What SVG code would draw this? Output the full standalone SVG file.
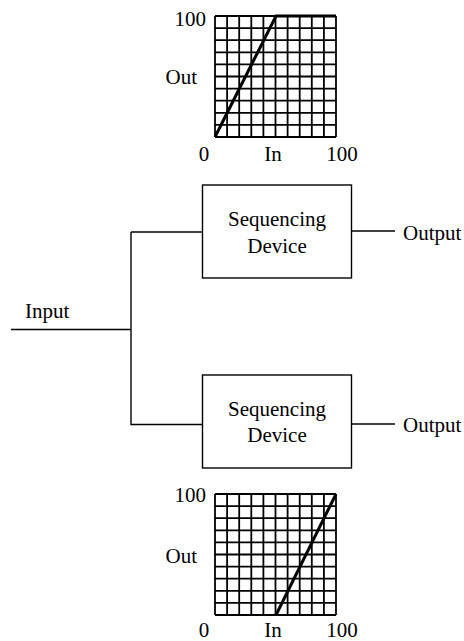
<svg xmlns="http://www.w3.org/2000/svg" xmlns:xlink="http://www.w3.org/1999/xlink" width="464" height="641" viewBox="0 0 464 641">
<style>
text{font-family:"Liberation Serif","Times New Roman",serif;font-size:21px;fill:#000}
.grid line{stroke:#000;stroke-width:1.8}
.curve{fill:none;stroke:#000;stroke-width:3;stroke-linejoin:miter}
.box{fill:#fff;stroke:#000;stroke-width:1.4}
.conn{fill:none;stroke:#000;stroke-width:1.4}
.mid{text-anchor:middle}
.end{text-anchor:end}
</style>
<defs>
<g id="gridlines" class="grid">
<line x1="0" y1="0" x2="0" y2="121"/>
<line x1="12.1" y1="0" x2="12.1" y2="121"/>
<line x1="24.2" y1="0" x2="24.2" y2="121"/>
<line x1="36.3" y1="0" x2="36.3" y2="121"/>
<line x1="48.4" y1="0" x2="48.4" y2="121"/>
<line x1="60.5" y1="0" x2="60.5" y2="121"/>
<line x1="72.6" y1="0" x2="72.6" y2="121"/>
<line x1="84.7" y1="0" x2="84.7" y2="121"/>
<line x1="96.8" y1="0" x2="96.8" y2="121"/>
<line x1="108.9" y1="0" x2="108.9" y2="121"/>
<line x1="121" y1="0" x2="121" y2="121"/>
<line x1="0" y1="0" x2="121" y2="0"/>
<line x1="0" y1="12.1" x2="121" y2="12.1"/>
<line x1="0" y1="24.2" x2="121" y2="24.2"/>
<line x1="0" y1="36.3" x2="121" y2="36.3"/>
<line x1="0" y1="48.4" x2="121" y2="48.4"/>
<line x1="0" y1="60.5" x2="121" y2="60.5"/>
<line x1="0" y1="72.6" x2="121" y2="72.6"/>
<line x1="0" y1="84.7" x2="121" y2="84.7"/>
<line x1="0" y1="96.8" x2="121" y2="96.8"/>
<line x1="0" y1="108.9" x2="121" y2="108.9"/>
<line x1="0" y1="121" x2="121" y2="121"/>
</g>
</defs>

<g id="connectors">
<path class="conn" d="M11,329.5 H131"/>
<path class="conn" d="M131,232 V424.5 H202.5"/>
<path class="conn" d="M131,232 H202.5"/>
<path class="conn" d="M351.5,231 H395"/>
<path class="conn" d="M351.5,424 H395"/>
</g>

<g id="graph-top">
<use xlink:href="#gridlines" transform="translate(215,16)"/>
<polyline class="curve" points="215,137 276,16 336,16"/>
<text class="end" x="206" y="26">100</text>
<text class="end" x="197" y="84">Out</text>
<text class="mid" x="204" y="161">0</text>
<text class="mid" x="273" y="161">In</text>
<text class="mid" x="342" y="161">100</text>
</g>

<g id="device-top">
<rect class="box" x="202.5" y="185" width="149" height="93"/>
<text class="mid" x="277" y="226">Sequencing</text>
<text class="mid" x="277" y="253">Device</text>
</g>

<g id="output-top">
<text x="403" y="240">Output</text>
</g>

<g id="input">
<text x="25" y="318">Input</text>
</g>

<g id="device-bottom">
<rect class="box" x="202.5" y="375" width="149" height="93"/>
<text class="mid" x="277" y="416">Sequencing</text>
<text class="mid" x="277" y="442">Device</text>
</g>

<g id="output-bottom">
<text x="403" y="432">Output</text>
</g>

<g id="graph-bottom">
<use xlink:href="#gridlines" transform="translate(215,494)"/>
<polyline class="curve" points="276,615 336,494"/>
<text class="end" x="206" y="502">100</text>
<text class="end" x="197" y="563">Out</text>
<text class="mid" x="204" y="637">0</text>
<text class="mid" x="273" y="637">In</text>
<text class="mid" x="342" y="637">100</text>
</g>
</svg>
